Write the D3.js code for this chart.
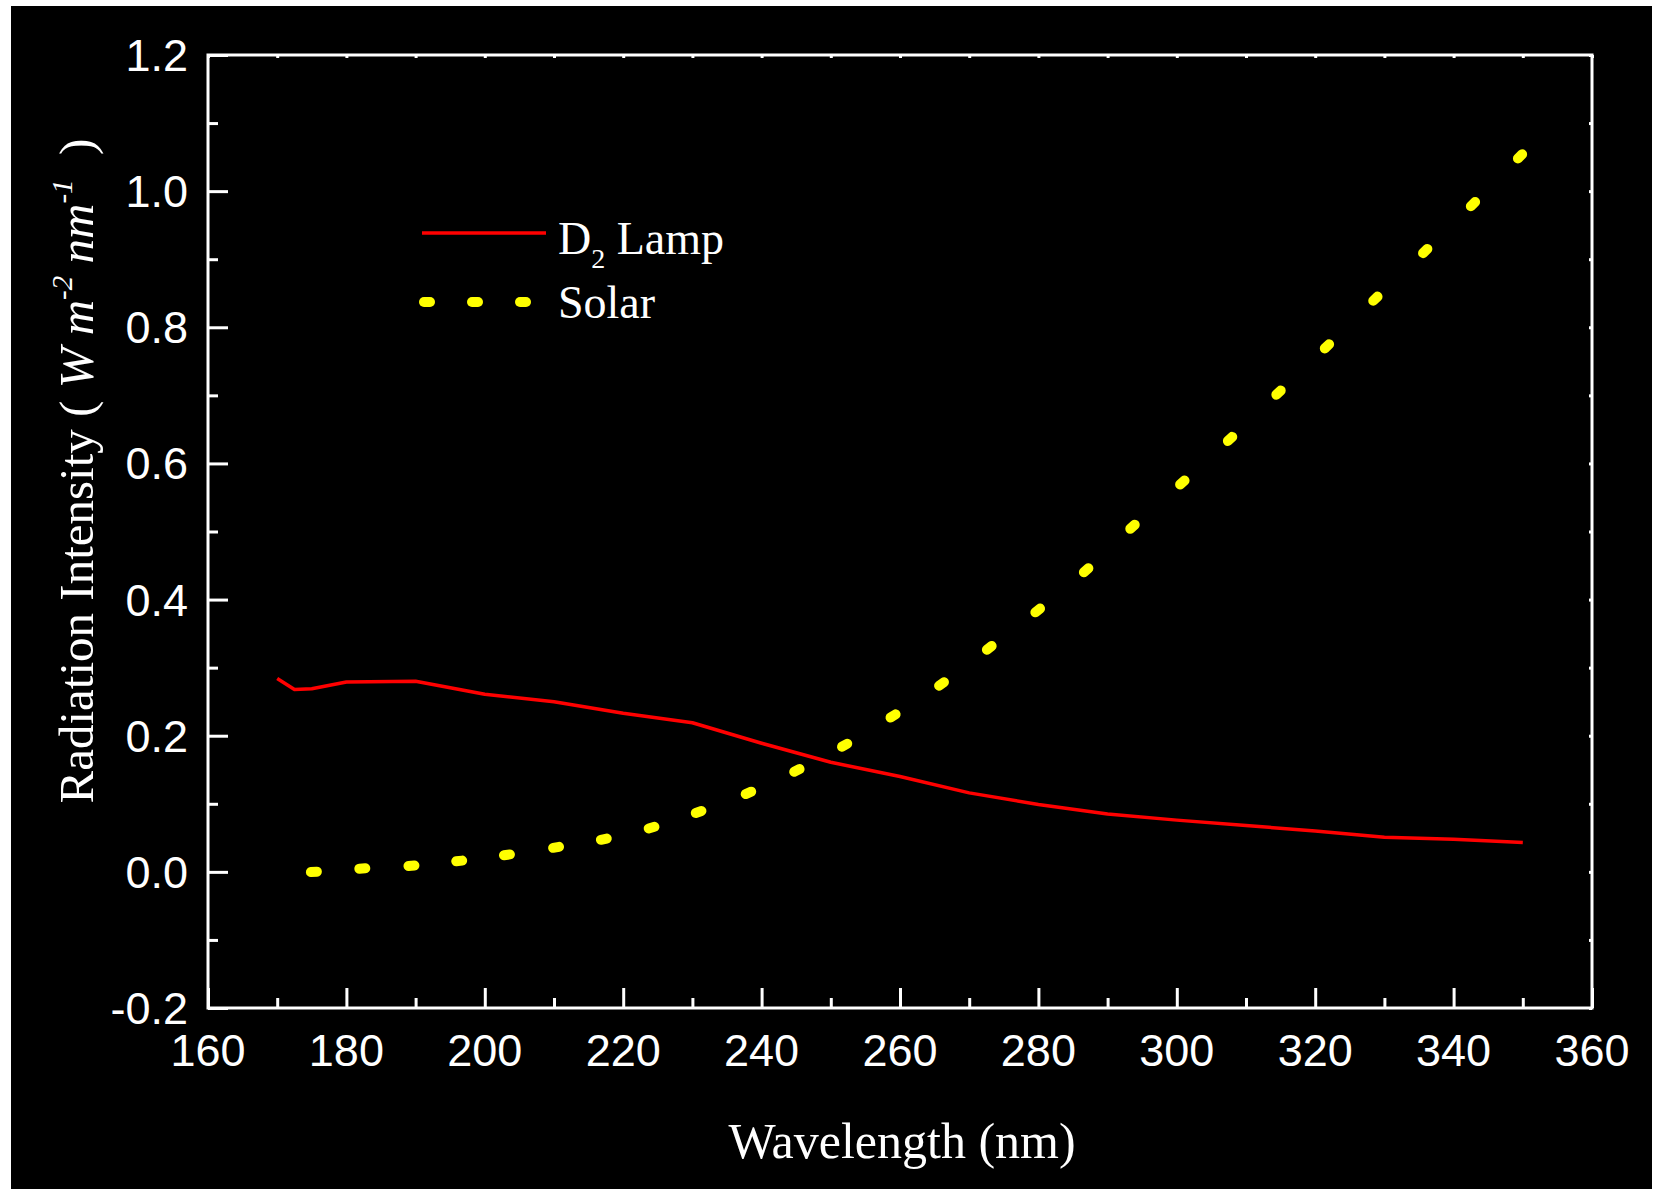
<!DOCTYPE html>
<html>
<head>
<meta charset="utf-8">
<script src="https://cdn.jsdelivr.net/npm/d3@7"></script>
<style>
  body { margin: 0; background: #fff; }
  svg { display: block; }
  .tick-label { font-family: "Liberation Sans", Arial, sans-serif; font-size: 45px; fill: #fff; }
  .title { font-family: "Liberation Serif", "Times New Roman", serif; fill: #fff; }
</style>
</head>
<body>
<svg width="1655" height="1189"></svg>
<script>
// **** data ****
var lampWave = [170, 172.5, 175, 180, 190, 200, 210, 220, 230, 240, 250, 260, 270, 280, 290, 300, 310, 320, 330, 340, 350]
var lampValue = [0.284, 0.268, 0.269, 0.279, 0.280, 0.261, 0.250, 0.233, 0.219, 0.189, 0.161, 0.140, 0.116, 0.099, 0.085, 0.076, 0.068, 0.060, 0.051, 0.048, 0.043]

var solarWave = [175.3, 182.3, 189.4, 196.3, 203.2, 210.3, 217.2, 224.1, 230.9, 238.1, 245.1, 252.0, 259.0, 266.0, 272.9, 279.9, 286.9, 293.6, 300.8, 307.7, 314.7, 321.7, 328.7, 335.9, 342.8, 349.6]
var solarValue = [0.000, 0.005, 0.009, 0.016, 0.025, 0.036, 0.048, 0.065, 0.088, 0.116, 0.149, 0.186, 0.229, 0.276, 0.329, 0.384, 0.443, 0.507, 0.572, 0.636, 0.704, 0.772, 0.842, 0.912, 0.981, 1.051]

var xTicks = [160, 180, 200, 220, 240, 260, 280, 300, 320, 340, 360]
var xMinor = [170, 190, 210, 230, 250, 270, 290, 310, 330, 350]
var yTicks = [-0.2, 0.0, 0.2, 0.4, 0.6, 0.8, 1.0, 1.2]
var yMinor = [-0.1, 0.1, 0.3, 0.5, 0.7, 0.9, 1.1]

// **** scales ****
var plotLeft = 208, plotRight = 1592, plotTop = 55, plotBottom = 1008

var xScale = d3.scaleLinear().domain([160, 360]).range([plotLeft, plotRight])
var yScale = d3.scaleLinear().domain([-0.2, 1.2]).range([plotBottom, plotTop])

var svg = d3.select('svg')

// black panel with thin white margin
svg.append('rect')
    .attr('x', 11).attr('y', 6)
    .attr('width', 1641).attr('height', 1183)
    .attr('fill', '#000')

// **** axes ****
var axisColor = '#fff'

// bottom ticks (inward)
svg.append('g').attr('class', 'x axis')
    .attr('transform', 'translate(0,' + plotBottom + ')')
    .call(d3.axisBottom(xScale).tickValues(xTicks).tickSize(-20).tickFormat(''))
svg.append('g').attr('class', 'x minor')
    .attr('transform', 'translate(0,' + plotBottom + ')')
    .call(d3.axisBottom(xScale).tickValues(xMinor).tickSize(-10).tickFormat(''))

// left ticks (inward)
svg.append('g').attr('class', 'y axis')
    .attr('transform', 'translate(' + plotLeft + ',0)')
    .call(d3.axisLeft(yScale).tickValues(yTicks).tickSize(-20).tickFormat(''))
svg.append('g').attr('class', 'y minor')
    .attr('transform', 'translate(' + plotLeft + ',0)')
    .call(d3.axisLeft(yScale).tickValues(yMinor).tickSize(-10).tickFormat(''))

// top and right only get tiny ticks
svg.append('g')
    .attr('transform', 'translate(0,' + plotTop + ')')
    .call(d3.axisTop(xScale).tickValues(xTicks.concat(xMinor)).tickSize(-3).tickFormat(''))
svg.append('g')
    .attr('transform', 'translate(' + plotRight + ',0)')
    .call(d3.axisRight(yScale).tickValues(yTicks.concat(yMinor)).tickSize(-3).tickFormat(''))

svg.selectAll('.domain').remove()
svg.selectAll('.tick line').attr('stroke', axisColor).attr('stroke-width', 3)

// frame
svg.append('rect')
    .attr('x', plotLeft).attr('y', plotTop)
    .attr('width', plotRight - plotLeft).attr('height', plotBottom - plotTop)
    .attr('fill', 'none')
    .attr('stroke', axisColor)
    .attr('stroke-width', 3)

// tick labels
svg.append('g').selectAll('text')
    .data(xTicks)
    .enter()
    .append('text')
    .attr('class', 'tick-label')
    .attr('x', function(d) { return xScale(d) })
    .attr('y', plotBottom + 58)
    .attr('text-anchor', 'middle')
    .text(function(d) { return d })

svg.append('g').selectAll('text')
    .data(yTicks)
    .enter()
    .append('text')
    .attr('class', 'tick-label')
    .attr('x', plotLeft - 20)
    .attr('y', function(d) { return yScale(d) + 16 })
    .attr('text-anchor', 'end')
    .text(function(d) { return d.toFixed(1) })

// **** axis titles ****
svg.append('text')
    .attr('class', 'title')
    .attr('x', 902)
    .attr('y', 1158)
    .attr('text-anchor', 'middle')
    .style('font-size', '50px')
    .text('Wavelength (nm)')

var yTitle = svg.append('text')
    .attr('class', 'title')
    .attr('transform', 'translate(93,471) rotate(-90)')
    .attr('text-anchor', 'middle')
    .style('font-size', '49px')
yTitle.append('tspan').text('Radiation Intensity\u00a0(\u00a0')
yTitle.append('tspan').style('font-style', 'italic').text('W m')
yTitle.append('tspan').style('font-style', 'italic').style('font-size', '29px').attr('dy', -21).text('-2')
yTitle.append('tspan').style('font-style', 'italic').attr('dy', 21).text(' nm')
yTitle.append('tspan').style('font-style', 'italic').style('font-size', '29px').attr('dy', -21).text('-1')
yTitle.append('tspan').attr('dy', 21).text('\u00a0\u00a0)')

// **** D2 lamp line ****
var lampData = lampWave.map(function(w, i) { return [w, lampValue[i]] })
var line = d3.line()
    .x(function(d) { return xScale(d[0]) })
    .y(function(d) { return yScale(d[1]) })

svg.append('path')
    .datum(lampData)
    .attr('d', line)
    .attr('fill', 'none')
    .attr('stroke', '#ff0000')
    .attr('stroke-width', 3.5)
    .attr('stroke-linejoin', 'round')

// **** solar dotted line: one short rounded dash per point, along the curve ****
var solarData = solarWave.map(function(w, i) { return [w, solarValue[i]] })
var dashHalf = 3
svg.append('g').selectAll('line')
    .data(solarData)
    .enter()
    .append('line')
    .each(function(d, i) {
        var a = solarData[Math.max(i - 1, 0)]
        var b = solarData[Math.min(i + 1, solarData.length - 1)]
        var dx = xScale(b[0]) - xScale(a[0])
        var dy = yScale(b[1]) - yScale(a[1])
        var len = Math.sqrt(dx * dx + dy * dy)
        var ux = dx / len, uy = dy / len
        var cx = xScale(d[0]), cy = yScale(d[1])
        d3.select(this)
            .attr('x1', cx - ux * dashHalf).attr('y1', cy - uy * dashHalf)
            .attr('x2', cx + ux * dashHalf).attr('y2', cy + uy * dashHalf)
    })
    .attr('stroke', '#ffff00')
    .attr('stroke-width', 10)
    .attr('stroke-linecap', 'round')

// **** legend ****
svg.append('line')
    .attr('x1', 422).attr('x2', 546)
    .attr('y1', 233).attr('y2', 233)
    .attr('stroke', '#ff0000')
    .attr('stroke-width', 3.5)

var lampLabel = svg.append('text')
    .attr('class', 'title')
    .attr('x', 558)
    .attr('y', 254)
    .style('font-size', '46px')
lampLabel.append('tspan').text('D')
lampLabel.append('tspan').style('font-size', '28px').attr('dy', 14).text('2')
lampLabel.append('tspan').attr('dy', -14).text('\u00a0Lamp')

svg.append('g').selectAll('line')
    .data([427, 475, 523])
    .enter()
    .append('line')
    .attr('x1', function(d) { return d - 3 })
    .attr('x2', function(d) { return d + 3 })
    .attr('y1', 302).attr('y2', 302)
    .attr('stroke', '#ffff00')
    .attr('stroke-width', 10)
    .attr('stroke-linecap', 'round')

svg.append('text')
    .attr('class', 'title')
    .attr('x', 558)
    .attr('y', 318)
    .style('font-size', '46px')
    .text('Solar')
</script>
</body>
</html>
